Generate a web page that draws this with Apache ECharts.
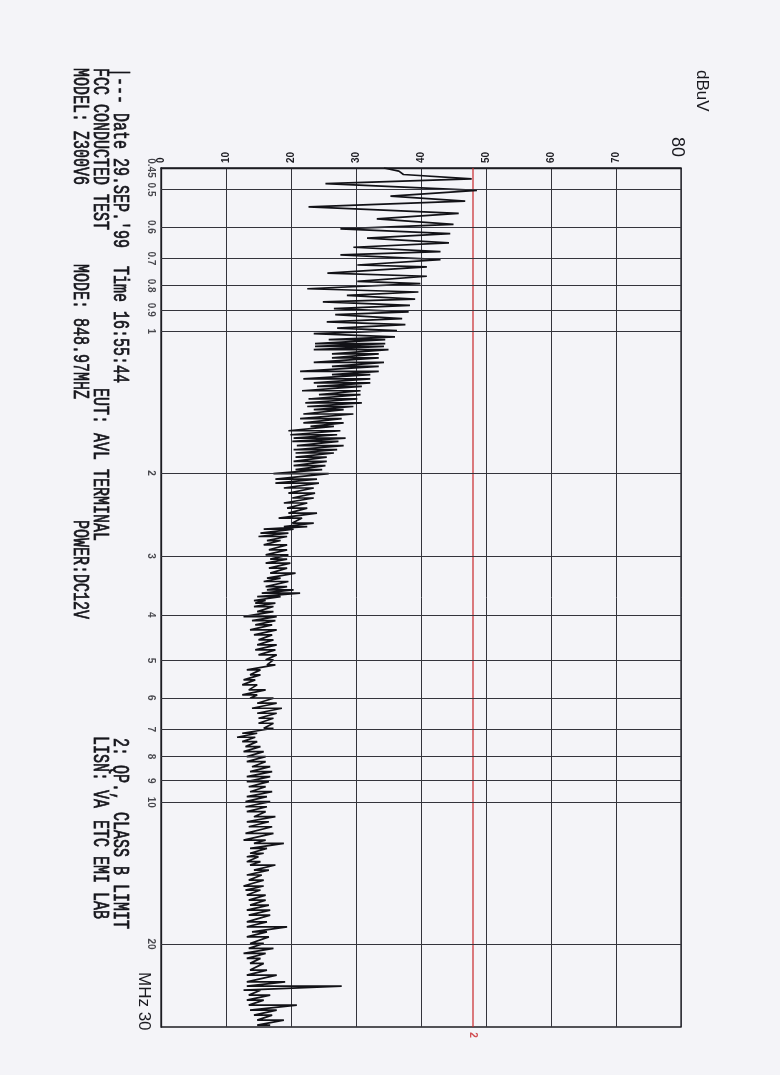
<!DOCTYPE html>
<html><head><meta charset="utf-8">
<script src="https://cdn.jsdelivr.net/npm/echarts@6/dist/echarts.min.js"></script>
<style>html,body{margin:0;padding:0;background:#f4f4f8;} #chart{width:780px;height:1075px;}</style>
</head><body><div id="chart"></div>
<script>
// ---- axis ticks ----
const levelMin = 0, levelMax = 80, levelStep = 10;
const freqMin = 0.45, freqMax = 30;
const freqGridValues = [0.5,0.6,0.7,0.8,0.9,1,2,3,4,5,6,7,8,9,10,20];
const freqLabelValues = [0.45,0.5,0.6,0.7,0.8,0.9,1,2,3,4,5,6,7,8,9,10,20];
const freqLabelTexts = ['0.45','0.5','0.6','0.7','0.8','0.9','1','2','3','4','5','6','7','8','9','10','20'];

// ---- limit line (2: QP. CLASS B LIMIT) ----
const limitLevel = 48;
const limitFreqs = [0.45, 30];

// ---- measured trace, 0.45 - 1.03 MHz (alternating peaks/troughs) ----
const peakFreq = [0.450,0.457,0.4645,0.4745,0.4855,0.502,0.5165,0.529,0.544,0.562,
  0.577,0.593,0.606,0.620,0.634,0.649,0.663,0.677,0.688,0.704,
  0.723,0.730,0.752,0.764,0.783,0.792,0.812,0.825,0.839,0.854,
  0.866,0.881,0.895,0.909,0.922,0.940,0.955,0.968,0.984,0.997,
  1.011,1.028];
const peakLevel = [34.3,36.6,37.3,47.8,25.3,48.6,35.3,46.8,22.7,45.8,
  33.2,45.0,27.6,44.5,31.7,44.3,29.6,43.0,27.6,43.0,
  30.2,40.9,25.6,40.9,30.2,39.9,22.5,39.6,28.6,39.1,
  24.9,38.3,26.6,38.1,26.8,37.1,25.5,37.6,27.1,36.3,
  23.5,36.0];

// ---- measured trace, 1.04 - 30 MHz (swing strokes: low then high at each frequency) ----
const strokeFreq = [
  1.041,1.062,1.076,1.094,1.117,1.139,1.164,1.187,1.216,1.236,
  1.262,1.287,1.309,1.337,1.363,1.392,1.419,1.444,1.467,1.498,
  1.533,1.565,1.592,1.626,1.658,1.685,1.713,1.749,1.784,1.813,
  1.849,1.889,1.929,1.967,2.006,2.059,2.100,
  2.151,2.205,2.259,2.315,2.373,2.432,2.492,2.554,2.597,2.630,
  2.682,2.727,2.781,2.840,2.910,2.982,3.045,3.105,3.183,3.262,
  3.342,3.398,3.483,3.539,3.597,3.657,3.729,3.777,3.840,3.936,
  4.034,4.114,4.201,4.305,4.411,
  4.520,4.632,4.747,4.864,4.984,5.107,5.234,5.363,5.496,5.632,
  5.772,5.915,6.012,6.161,6.314,6.470,6.630,6.794,6.963,7.135,
  7.276,7.434,7.618,7.806,8.000,8.199,8.402,8.610,8.823,9.042,
  9.267,9.496,9.730,9.971,10.22,
  10.47,10.73,11.00,11.27,11.64,12.03,12.22,12.53,12.83,13.05,
  13.37,13.59,13.93,14.27,14.63,15.06,15.36,15.74,16.13,16.53,
  16.94,17.36,17.94,18.38,18.84,19.31,19.94,20.43,20.94,21.45,
  21.98,22.71,23.28,24.06,24.57,25.06,25.67,26.31,26.96,27.63,
  28.31,29.01,29.73];
const strokeLow = [
  25.8,23.7,23.7,23.5,26.3,26.3,23.5,26.3,21.4,26.3,
  21.9,23.5,24.0,21.7,24.3,22.7,22.2,22.5,23.5,21.9,
  21.4,21.9,23.0,19.6,19.9,20.4,20.2,20.9,20.4,20.7,
  20.7,20.4,20.4,20.7,17.3,17.6,17.6,
  18.9,19.6,20.2,18.9,19.4,19.6,18.1,20.2,18.9,15.8,
  15.3,15.0,16.3,15.8,16.6,16.1,16.8,16.1,16.6,16.8,
  16.3,15.8,16.1,16.3,15.5,14.8,14.3,14.5,14.3,14.8,
  12.7,14.0,14.5,13.7,14.3,
  15.0,14.8,14.5,15.0,16.1,16.3,13.2,13.7,12.7,12.5,
  13.5,12.5,13.7,14.8,14.0,14.8,15.0,15.0,15.8,12.5,
  11.7,12.5,13.0,12.7,13.2,13.2,14.0,13.7,13.2,13.2,
  13.5,13.7,13.2,13.0,13.0,
  13.2,14.3,13.2,13.5,13.0,12.7,14.3,13.7,13.7,13.2,
  13.2,13.7,14.3,13.2,13.5,12.7,13.0,13.2,13.5,13.7,
  13.2,13.5,13.2,13.2,14.0,13.2,13.7,13.5,12.7,13.2,
  13.7,13.7,13.2,13.2,13.2,12.7,13.5,13.2,13.5,13.7,
  14.3,14.8,14.8];
const strokeHigh = [
  34.5,34.5,34.3,35.0,33.5,33.5,34.3,33.5,33.5,32.2,
  32.2,32.2,30.9,30.7,30.7,30.2,30.9,29.6,28.1,29.6,
  27.8,28.1,26.6,27.6,27.1,28.4,27.3,28.1,27.1,26.6,
  25.5,25.5,25.3,24.8,25.8,24.0,24.3,
  23.5,23.7,23.5,22.5,22.5,24.0,21.7,23.5,22.5,20.4,
  19.6,19.4,18.4,19.4,19.4,19.6,19.4,19.9,19.4,20.7,
  18.4,19.6,19.4,20.4,21.4,18.4,16.1,17.6,17.3,17.3,
  17.8,17.6,17.1,17.8,17.1,
  17.3,17.8,17.6,17.8,17.3,17.6,15.3,15.3,14.5,14.8,
  16.1,14.8,17.3,17.8,18.6,17.8,17.3,17.3,17.3,14.8,
  14.5,14.8,15.3,15.8,16.1,16.1,16.8,17.1,16.8,16.6,
  16.1,17.1,16.3,16.8,16.3,
  16.1,17.6,16.6,17.1,17.3,16.1,18.9,16.3,15.8,15.0,
  15.3,17.6,16.6,15.5,15.8,15.8,15.3,16.1,16.1,16.6,
  16.8,16.8,16.3,19.4,16.3,16.6,15.8,17.3,16.1,15.3,
  15.8,16.3,17.8,19.1,27.8,15.3,16.8,15.8,20.9,17.8,
  17.1,18.9,16.8];

// ---- header text ----
const headerLine1a = "|--- Date 29.SEP.'99";
const headerLine1b = "Time 16:55:44";
const headerLine2a = "FCC CONDUCTED TEST";
const headerLine2b = "EUT: AVL TERMINAL";
const headerLine3a = "MODEL: Z300V6";
const headerLine3b = "MODE: 848.97MHZ";
const headerLine3c = "POWER:DC12V";
const legendLine1a = "2: QP.,";
const legendLine1b = "CLASS B LIMIT";
const legendLine2a = "LISN: VA";
const legendLine2b = "ETC EMI LAB";
const unitY = "dBuV";
const topLevelLabel = "80";
const unitX = "MHz 30";

// ---- build series data ----
const traceData = [];
for (let i = 0; i < peakFreq.length; i++) traceData.push([peakLevel[i], peakFreq[i]]);
for (let i = 0; i < strokeFreq.length; i++) {
  traceData.push([strokeLow[i], strokeFreq[i]]);
  traceData.push([strokeHigh[i], strokeFreq[i]]);
}

const chart = echarts.init(document.getElementById('chart'), null, {renderer: 'canvas'});
const CW = -Math.PI / 2;
const txtFont = '15px "Liberation Mono"';
function rtext(x, y, text) {
  return {type: 'text', x: x, y: y, rotation: CW, scaleY: 1.5, silent: true,
    style: {text: text, font: txtFont, fill: '#15151b', align: 'left', verticalAlign: 'middle',
      stroke: '#15151b', lineWidth: 0.5}};
}
function stext(x, y, text, size) {
  return {type: 'text', x: x, y: y, rotation: CW, silent: true,
    style: {text: text, font: size + 'px "Liberation Sans"', fill: '#1a1a20', align: 'left', verticalAlign: 'middle'}};
}

chart.setOption({
  backgroundColor: '#f4f4f8',
  animation: false,
  grid: {left: 161, right: 99, top: 168, bottom: 48, show: true, borderColor: '#1c1c22', borderWidth: 1.3, backgroundColor: 'transparent'},
  xAxis: {
    type: 'value', position: 'top', min: levelMin, max: levelMax, interval: levelStep,
    axisLine: {show: true, lineStyle: {color: '#1c1c22', width: 1.3}},
    axisTick: {show: false},
    splitLine: {show: true, lineStyle: {color: '#34343c', width: 1}},
    axisLabel: {rotate: -90, fontSize: 10, fontWeight: 'bold', color: '#1c1c22', margin: 5,
      fontFamily: 'Liberation Sans', showMinLabel: true, showMaxLabel: false,
      formatter: v => v === levelMax ? '' : String(v)}
  },
  yAxis: {
    type: 'log', logBase: 10, min: freqMin, max: freqMax, inverse: true,
    axisLine: {show: true, lineStyle: {color: '#1c1c22', width: 1.3}},
    axisTick: {show: false}, axisLabel: {show: false},
    splitLine: {show: false}, minorTick: {show: false}, minorSplitLine: {show: false}
  },
  series: [
    {
      type: 'line', name: 'limit', silent: true, showSymbol: false, z: 3,
      data: limitFreqs.map(f => [limitLevel, f]),
      lineStyle: {color: '#c8262b', width: 1.2},
      markLine: {
        silent: true, symbol: 'none', label: {show: false}, animation: false,
        lineStyle: {color: '#34343c', width: 1, type: 'solid'},
        data: freqGridValues.map(f => ({yAxis: f}))
      }
    },
    {
      type: 'line', name: 'QP', silent: true, showSymbol: false, z: 4,
      data: traceData,
      lineStyle: {color: '#121217', width: 1.7}
    },
    {
      type: 'scatter', silent: true, symbolSize: 0, clip: false, z: 5,
      data: freqLabelValues.map(f => [levelMin, f]),
      label: {show: true, position: 'left', distance: 10, rotate: -90, align: 'center', verticalAlign: 'middle',
        formatter: p => freqLabelTexts[p.dataIndex], fontSize: 10, fontWeight: 'bold', color: '#1c1c22', fontFamily: 'Liberation Sans'}
    },
    {
      type: 'scatter', silent: true, symbolSize: 0, clip: false, z: 5,
      data: [[limitLevel, limitFreqs[1]]],
      label: {show: true, position: 'bottom', distance: 8, rotate: -90, align: 'center', verticalAlign: 'middle',
        formatter: '2', fontSize: 10, fontWeight: 'bold', color: '#c8262b', fontFamily: 'Liberation Sans'}
    }
  ],
  graphic: [
    rtext(120, 68, headerLine1a),
    rtext(120, 266, headerLine1b),
    rtext(100, 68, headerLine2a),
    rtext(100, 388, headerLine2b),
    rtext(80, 68, headerLine3a),
    rtext(80, 264, headerLine3b),
    rtext(80, 520, headerLine3c),
    rtext(120, 738, legendLine1a),
    rtext(120, 812, legendLine1b),
    rtext(100, 736, legendLine2a),
    rtext(100, 820, legendLine2b),
    stext(702, 70, unitY, 17),
    stext(677, 137, topLevelLabel, 18),
    stext(144, 972, unitX, 17)
  ]
});
</script>
</body></html>
